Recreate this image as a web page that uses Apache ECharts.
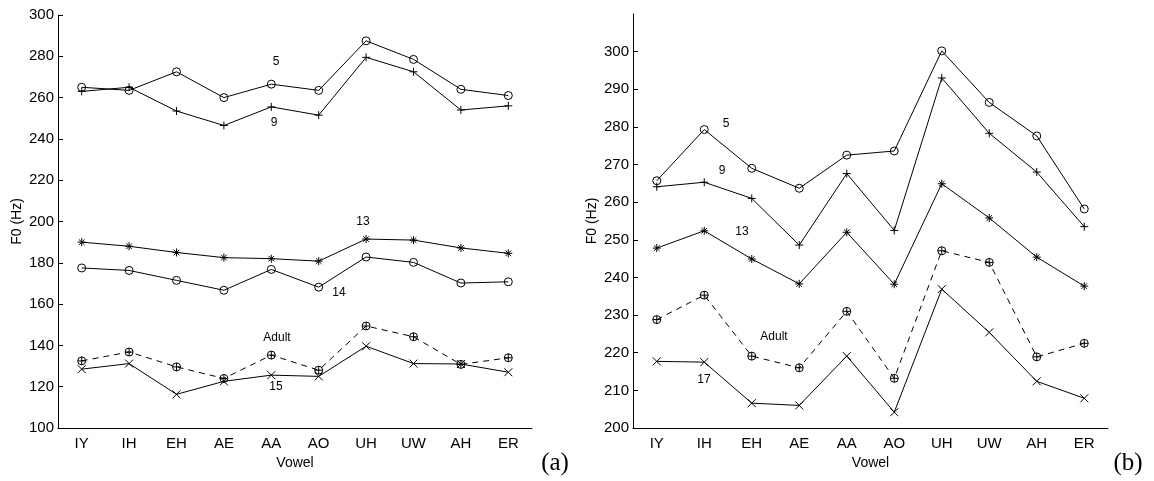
<!DOCTYPE html>
<html>
<head>
<meta charset="utf-8">
<script src="https://cdn.jsdelivr.net/npm/echarts@6/dist/echarts.min.js"></script>
<style>
  html, body { margin: 0; padding: 0; background: #fff; }
  #chart { width: 1154px; height: 481px; }
</style>
</head>
<body>
<div id="chart"></div>
<script>
var vowels = ['IY', 'IH', 'EH', 'AE', 'AA', 'AO', 'UH', 'UW', 'AH', 'ER']

// panel (a)
var a5 = [265, 263.5, 272.5, 260, 266.5, 263.5, 287.5, 278.5, 264, 261]
var a9 = [263, 265, 253.5, 246.5, 255.5, 251.5, 279.5, 272.5, 254, 256]
var a13 = [190, 188, 185, 182.5, 182, 180.8, 191.5, 191, 187.2, 184.6]
var a14 = [177.5, 176.3, 171.5, 166.7, 176.8, 168.2, 182.8, 180.2, 170.2, 170.8]
var aAdult = [132.5, 136.8, 129.6, 124, 135.3, 128, 149.4, 144.2, 130.8, 134]
var a15 = [128.5, 131.2, 116.3, 122.6, 125.6, 125, 139.6, 131.2, 131, 127]

// panel (b)
var b5 = [265.7, 279.3, 269, 263.7, 272.5, 273.6, 300.2, 286.5, 277.6, 258.2]
var b9 = [264.1, 265.3, 261, 248.6, 267.6, 252.5, 293, 278.3, 268, 253.5]
var b13 = [247.8, 252.4, 244.9, 238.3, 252, 238.2, 264.9, 255.8, 245.4, 237.7]
var bAdult = [228.8, 235.3, 219.1, 216, 231, 213.2, 247.1, 244, 218.9, 222.5]
var b17 = [217.7, 217.5, 206.6, 206, 219.1, 204.2, 236.9, 225.4, 212.4, 207.9]

var symCircle = 'path://M0,5A5,5 0 1 1 10,5A5,5 0 1 1 0,5Z'
var symPlus = 'path://M5,0L5,10M0,5L10,5'
var symCross = 'path://M0,0L10,10M10,0L0,10'
var symStar = 'path://M5,0L5,10M0,5L10,5M1.5,1.5L8.5,8.5M8.5,1.5L1.5,8.5'
var symOPlus = 'path://M0,5A5,5 0 1 1 10,5A5,5 0 1 1 0,5ZM5,0L5,10M0,5L10,5'

var font = 'Liberation Sans'

function mkSeries(data, idx, symbol, size, dashed) {
    return {
        type: 'line',
        xAxisIndex: idx,
        yAxisIndex: idx,
        data: data,
        symbol: symbol,
        symbolSize: size,
        showAllSymbol: true,
        animation: false,
        itemStyle: {
            color: 'rgba(0,0,0,0)',
            borderColor: '#000',
            borderWidth: 1
        },
        lineStyle: {
            color: '#000',
            width: 1,
            type: dashed ? [6, 5] : 'solid'
        },
        emphasis: { disabled: true }
    }
}

function mkXAxis(idx) {
    return {
        type: 'category',
        gridIndex: idx,
        data: vowels,
        boundaryGap: true,
        name: 'Vowel',
        nameLocation: 'middle',
        nameGap: 24,
        nameTextStyle: { color: '#000', fontFamily: font, fontSize: 14 },
        axisLine: { lineStyle: { color: '#000', width: 1 } },
        axisTick: { inside: true, alignWithLabel: true, length: 5, lineStyle: { color: '#000' } },
        axisLabel: { color: '#000', fontFamily: font, fontSize: 15, margin: 8 },
        splitLine: { show: false }
    }
}

function mkYAxis(idx, min, max, interval) {
    return {
        type: 'value',
        gridIndex: idx,
        min: min,
        max: max,
        interval: interval,
        name: 'F0 (Hz)',
        nameLocation: 'middle',
        nameRotate: 90,
        nameGap: 34,
        nameTextStyle: { color: '#000', fontFamily: font, fontSize: 14 },
        axisLine: { show: true, lineStyle: { color: '#000', width: 1 } },
        axisTick: { show: true, inside: true, length: 5, lineStyle: { color: '#000' } },
        axisLabel: { color: '#000', fontFamily: font, fontSize: 15, margin: 4, showMaxLabel: idx === 0 },
        splitLine: { show: false }
    }
}

function txt(x, y, s, size, fam) {
    return {
        type: 'text',
        x: x,
        y: y,
        style: {
            text: s,
            fill: '#000',
            font: size + 'px "' + (fam || font) + '"',
            textAlign: 'center',
            textVerticalAlign: 'middle'
        }
    }
}

var chart = echarts.init(document.getElementById('chart'))

var options = {
    backgroundColor: '#fff',
    animation: false,
    grid: [
        { left: 58, top: 15, width: 474, height: 413 },
        { left: 633, top: 14, width: 475, height: 414 }
    ],
    xAxis: [mkXAxis(0), mkXAxis(1)],
    yAxis: [mkYAxis(0, 100, 300, 20), mkYAxis(1, 200, 310, 10)],
    series: [
        mkSeries(a5, 0, symCircle, 8),
        mkSeries(a9, 0, symPlus, 8),
        mkSeries(a13, 0, symStar, 8),
        mkSeries(a14, 0, symCircle, 8),
        mkSeries(aAdult, 0, symOPlus, 8, true),
        mkSeries(a15, 0, symCross, 8),
        mkSeries(b5, 1, symCircle, 8),
        mkSeries(b9, 1, symPlus, 8),
        mkSeries(b13, 1, symStar, 8),
        mkSeries(bAdult, 1, symOPlus, 8, true),
        mkSeries(b17, 1, symCross, 8)
    ],
    graphic: [
        txt(276, 62, '5', 12),
        txt(274, 123, '9', 12),
        txt(363, 222, '13', 12),
        txt(339, 293, '14', 12),
        txt(277, 338, 'Adult', 12),
        txt(276, 387, '15', 12),
        txt(726, 124, '5', 12),
        txt(722, 171, '9', 12),
        txt(742, 232, '13', 12),
        txt(774, 337, 'Adult', 12),
        txt(704, 380, '17', 12),
        txt(555, 463, '(a)', 25, 'Liberation Serif'),
        txt(1128, 463, '(b)', 25, 'Liberation Serif')
    ]
}

chart.setOption(options)
</script>
</body>
</html>
